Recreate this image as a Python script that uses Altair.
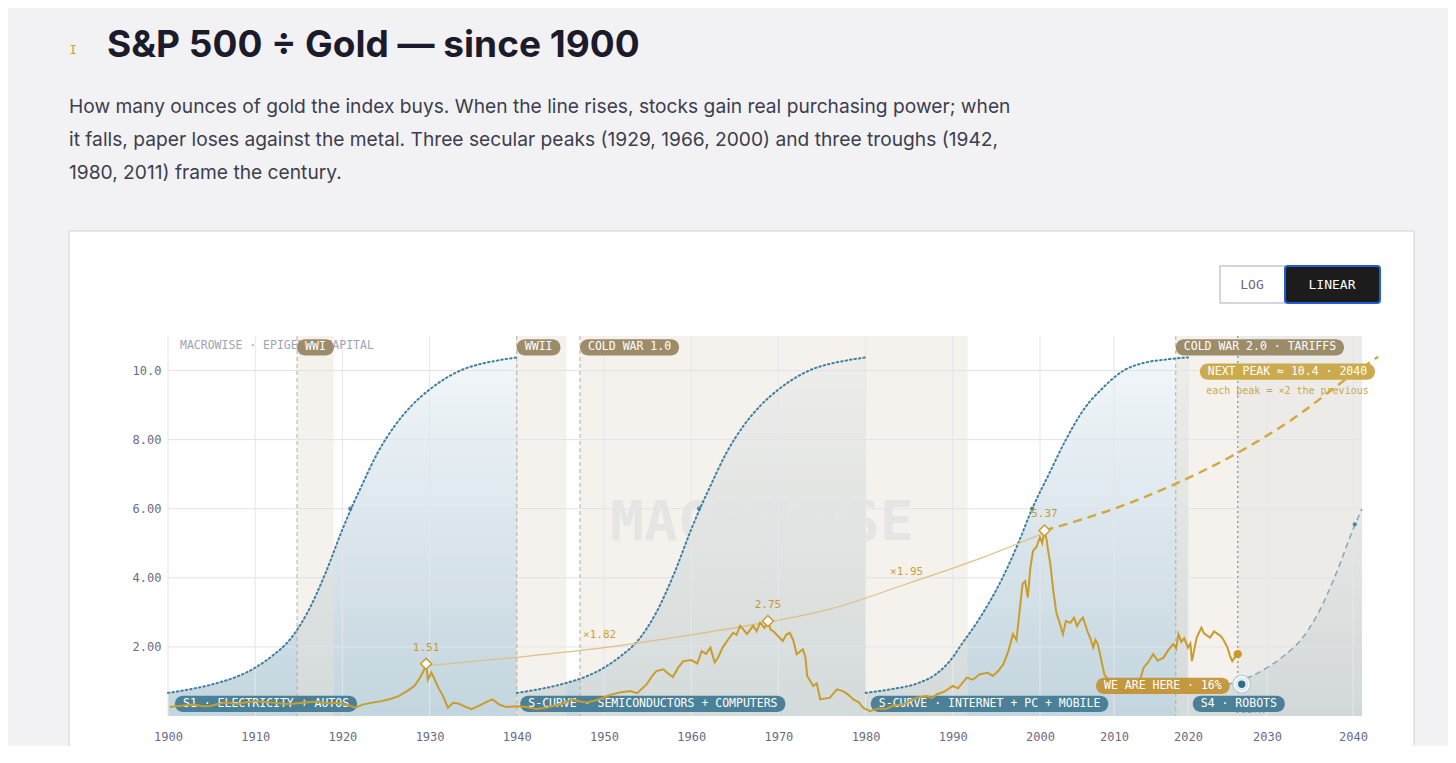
import altair as alt
import numpy as np
import pandas as pd

# ---------------- data ----------------
ratio_year = [1900.2, 1901.5, 1902.9, 1904.0, 1904.8, 1906.0, 1906.7, 1908.0, 1909.0, 1910.0,
              1911.0, 1912.3, 1913.5, 1914.6, 1916.0, 1917.2, 1918.3, 1919.5, 1920.5, 1921.5,
              1922.3, 1923.3, 1924.5, 1925.6, 1926.5, 1927.6, 1928.3, 1928.9, 1929.3, 1929.6,
              1929.8, 1930.2, 1930.6, 1931.0, 1931.5, 1932.1, 1932.7, 1933.3, 1934.0, 1934.8,
              1935.7, 1936.5, 1937.2, 1938.0, 1938.8, 1940.0, 1941.1, 1942.3, 1943.5, 1944.2,
              1945.2, 1946.4, 1947.2, 1948.0, 1949.0, 1949.9, 1950.8, 1951.8, 1953.0, 1953.8,
              1954.9, 1955.5, 1956.0, 1956.8, 1957.4, 1957.9, 1958.5, 1959.1, 1960.0, 1960.7,
              1961.2, 1961.7, 1962.2, 1962.7, 1963.1, 1963.6, 1964.2, 1964.8, 1965.2, 1965.6,
              1966.0, 1966.4, 1967.1, 1967.5, 1967.9, 1968.4, 1968.8, 1969.1, 1969.4, 1970.0,
              1970.5, 1970.9, 1971.3, 1971.7, 1972.1, 1972.8, 1973.1, 1973.3, 1974.0, 1974.4,
              1974.8, 1975.9, 1976.7, 1977.4, 1978.0, 1978.6, 1979.2, 1979.7, 1980.5, 1981.5,
              1982.3, 1983.1, 1984.5, 1985.2, 1985.9, 1987.0, 1987.6, 1988.2, 1989.0, 1990.0,
              1990.6, 1991.6, 1992.3, 1993.1, 1994.0, 1994.6, 1995.2, 1995.8, 1996.4, 1996.9,
              1997.3, 1997.6, 1998.0, 1998.3, 1998.6, 1998.9, 1999.2, 1999.6, 2000.0, 2000.3,
              2000.6, 2000.9, 2001.1, 2001.4, 2001.8, 2002.2, 2002.7, 2003.1, 2003.5, 2004.1,
              2004.6, 2005.0, 2005.4, 2005.8, 2006.4, 2006.8, 2007.2, 2007.5, 2007.8, 2008.1,
              2008.4, 2008.7, 2009.0, 2009.9, 2010.4, 2010.8, 2011.3, 2011.8, 2012.5, 2013.1,
              2013.6, 2014.0, 2014.6, 2015.3, 2015.9, 2016.7, 2017.3, 2018.0, 2018.4, 2018.7,
              2019.1, 2019.5, 2020.0, 2020.3, 2020.5, 2021.1, 2021.7, 2022.0, 2022.3, 2022.8,
              2023.3, 2023.8, 2024.2, 2024.5, 2025.0, 2025.3, 2025.6, 2026.2]
ratio_value = [0.26, 0.30, 0.33, 0.28, 0.29, 0.36, 0.40, 0.35, 0.40, 0.43,
               0.41, 0.38, 0.35, 0.36, 0.40, 0.42, 0.37, 0.38, 0.33, 0.24,
               0.33, 0.38, 0.43, 0.50, 0.58, 0.75, 0.88, 1.11, 1.30, 1.51,
               1.05, 1.26, 1.05, 0.82, 0.60, 0.24, 0.38, 0.36, 0.28, 0.20,
               0.30, 0.40, 0.48, 0.33, 0.26, 0.28, 0.26, 0.20, 0.25, 0.29,
               0.35, 0.49, 0.42, 0.39, 0.45, 0.53, 0.62, 0.68, 0.72, 0.66,
               0.92, 1.15, 1.30, 1.35, 1.22, 1.13, 1.40, 1.59, 1.62, 1.52,
               1.88, 1.80, 1.98, 1.55, 1.70, 1.98, 2.20, 2.41, 2.35, 2.61,
               2.50, 2.37, 2.61, 2.45, 2.70, 2.55, 2.75, 2.50, 2.46, 2.30,
               2.17, 2.35, 2.41, 2.20, 1.79, 1.93, 1.70, 1.16, 0.87, 0.95,
               0.48, 0.53, 0.77, 0.72, 0.62, 0.48, 0.40, 0.24, 0.14, 0.22,
               0.20, 0.29, 0.35, 0.45, 0.53, 0.58, 0.52, 0.63, 0.70, 0.87,
               0.80, 1.11, 1.05, 1.21, 1.25, 1.16, 1.30, 1.50, 1.90, 2.37,
               2.20, 2.90, 3.82, 3.90, 3.43, 4.30, 4.78, 4.90, 5.17, 5.00,
               5.37, 5.10, 4.78, 4.40, 3.62, 3.00, 2.66, 2.37, 2.75, 2.70,
               2.85, 2.60, 2.75, 2.85, 2.46, 2.25, 1.98, 2.20, 2.08, 1.80,
               1.50, 1.20, 1.11, 0.82, 0.95, 0.80, 0.72, 0.68, 0.75, 0.82,
               1.10, 1.40, 1.55, 1.79, 1.60, 1.69, 1.90, 2.08, 1.95, 2.37,
               2.15, 2.25, 1.98, 2.10, 1.59, 2.27, 2.56, 2.40, 2.35, 2.27,
               2.45, 2.37, 2.30, 2.20, 1.98, 1.75, 1.59, 1.79]

s_t = [0, 2, 4, 6, 8, 10, 12, 14, 16, 18, 20, 21, 22, 24, 26, 28, 30, 32, 34, 36, 38, 40]
s_v = [0.67, 0.75, 0.85, 0.98, 1.15, 1.40, 1.75, 2.22, 3.00, 4.10, 5.40, 6.00, 6.55, 7.60,
       8.40, 9.00, 9.45, 9.80, 10.05, 10.20, 10.30, 10.38]
s_starts = [1900, 1940]
s4_start = 2020
s4_last_t = 21
s3_year = [1980, 1983, 1986, 1988, 1990, 1990.8, 1993, 1995.7, 1997.5, 1999.1, 2001.2,
           2003.5, 2006, 2008.5, 2011.3, 2014, 2017, 2020]
s3_value = [0.67, 0.78, 0.95, 1.20, 1.70, 2.00, 2.80, 4.00, 5.00, 6.00, 7.00,
            8.00, 8.90, 9.50, 10.00, 10.22, 10.32, 10.38]
s_mark_year = [1920.9, 1960.9, 1999.1, 2040.2]
s_mark_value = [6.0, 6.0, 6.0, 5.55]

s_label = ["S1 · ELECTRICITY + AUTOS", "S-CURVE · SEMICONDUCTORS + COMPUTERS",
           "S-CURVE · INTERNET + PC + MOBILE", "S4 · ROBOTS"]
s_label_year = [1900.8, 1940.4, 1980.6, 2020.6]
s_label_value = [0.35, 0.35, 0.35, 0.35]

band_label = ["WWI", "WWII", "COLD WAR 1.0", "COLD WAR 2.0 · TARIFFS"]
band_start = [1914.8, 1940.0, 1947.25, 2018.35]
band_end = [1919.0, 1945.7, 1991.7, 2041.0]
band_label_value = [10.67, 10.67, 10.67, 10.67]

peak_year = [1929.6, 1968.8, 2000.6]
peak_value = [1.51, 2.75, 5.37]
peak_text = ["1.51", "2.75", "5.37"]

trend_year = [1929.6, 1940, 1950, 1960, 1968.8, 1976, 1985, 1993, 2000.6]
trend_value = [1.45, 1.70, 1.98, 2.35, 2.72, 3.10, 3.85, 4.55, 5.30]
mult_text = ["×1.82", "×1.95"]
mult_year = [1947.6, 1982.8]
mult_value = [2.35, 4.17]

proj_year = [2000.6, 2010, 2018.3, 2026.3, 2033, 2040, 2042.8]
proj_value = [5.37, 6.00, 6.72, 7.62, 8.60, 9.90, 10.40]

today_year = 2026.3
today_value = 1.79
s4_now_year = 2026.8
s4_now_value = 0.92

x_ticks = [1900, 1910, 1920, 1930, 1940, 1950, 1960, 1970, 1980, 1990, 2000, 2010, 2020, 2030, 2040]
y_ticks = [2, 4, 6, 8, 10]

# ---------------- scales / styles ----------------
x_dom = [1900, 2000, 2010, 2020, 2030, 2040, 2041]
x_rng = [0, 872, 946, 1020, 1099, 1185, 1194]
W, H = 1194, 380
MONO = "DejaVu Sans Mono"
SANS = "Inter"
GOLD = "#c89d2e"
TEAL = "#3f7f9f"

xs = alt.Scale(domain=x_dom, range=x_rng, nice=False, zero=False)
ys = alt.Scale(domain=[0, 11], nice=False, zero=False)
xaxis = alt.Axis(values=x_ticks, title=None, grid=False, domain=False, ticks=False, zindex=1,
                 labelFont=MONO, labelFontSize=12, labelColor="#6c6a84", labelPadding=15,
                 format="d", labelFlush=False, labelOverlap=False)
yaxis = alt.Axis(values=y_ticks, title=None, grid=False, domain=False, ticks=False, zindex=1,
                 labelFont=MONO, labelFontSize=12, labelColor="#6c6a84", labelPadding=7,
                 labelExpr="datum.value >= 10 ? format(datum.value, '.1f') : format(datum.value, '.2f')")


def X(f):
    return alt.X(f, type="quantitative", scale=xs, axis=xaxis)


def Y(f, stack=False):
    if stack:
        return alt.Y(f, type="quantitative", scale=ys, axis=yaxis, stack=None)
    return alt.Y(f, type="quantitative", scale=ys, axis=yaxis)


def to_px(year):
    return float(np.interp(year, x_dom, x_rng))


def to_year(p):
    if p > x_rng[-1]:
        return x_dom[-1] + (p - x_rng[-1]) / 9.0
    return float(np.interp(p, x_rng, x_dom))


one = pd.DataFrame({"k": [0]})

# ---------------- tables ----------------
ratio_df = pd.DataFrame({"year": ratio_year, "value": ratio_value})
rows = []
for i, s in enumerate(s_starts):
    for t, v in zip(s_t, s_v):
        rows.append({"curve": f"S{i+1}", "year": s + t, "value": v})
for y, v in zip(s3_year, s3_value):
    rows.append({"curve": "S3", "year": y, "value": v})
s_df = pd.DataFrame(rows)
s4_df = pd.DataFrame([{"curve": "S4", "year": s4_start + t, "value": v}
                      for t, v in zip(s_t, s_v) if t <= s4_last_t])
band_df = pd.DataFrame({"x": band_start, "x2": band_end})

# ---------------- layers ----------------
layers = []

# card & page text
layers.append(alt.Chart(one).mark_rect(fill="white", stroke="#cfcfdc", strokeWidth=1).encode(
    x=alt.value(-99), x2=alt.value(1246), y=alt.value(-105), y2=alt.value(600)))
layers.append(alt.Chart(one).mark_text(font=MONO, fontSize=12, color="#c9a032", baseline="middle",
                                       align="center").encode(
    x=alt.value(-95), y=alt.value(-286), text=alt.value("I")))
layers.append(alt.Chart(one).mark_text(font=SANS, fontSize=37, fontWeight=700, color="#1b1b2b",
                                       align="left", baseline="alphabetic").encode(
    x=alt.value(-61), y=alt.value(-279), text=alt.value("S&P 500 ÷ Gold — since 1900")))
layers.append(alt.Chart(one).mark_text(font=SANS, fontSize=19.2, color="#3d3d4e", align="left",
                                       baseline="middle", lineHeight=33).encode(
    x=alt.value(-99), y=alt.value(-229),
    text=alt.value(["How many ounces of gold the index buys. When the line rises, stocks gain real purchasing power; when",
                    "it falls, paper loses against the metal. Three secular peaks (1929, 1966, 2000) and three troughs (1942,",
                    "1980, 2011) frame the century."])))
# buttons
layers.append(alt.Chart(one).mark_rect(fill="white", stroke="#c8c8d8", strokeWidth=1.5).encode(
    x=alt.value(1052), x2=alt.value(1117), y=alt.value(-70), y2=alt.value(-33)))
layers.append(alt.Chart(one).mark_rect(fill="#1c1c1c", stroke="#1f5fd6", strokeWidth=2,
                                       cornerRadius=3).encode(
    x=alt.value(1117), x2=alt.value(1212), y=alt.value(-70), y2=alt.value(-33)))
layers.append(alt.Chart(one).mark_text(font=MONO, fontSize=13, color="#6c6a84").encode(
    x=alt.value(1084), y=alt.value(-51), text=alt.value("LOG")))
layers.append(alt.Chart(one).mark_text(font=MONO, fontSize=13, color="white").encode(
    x=alt.value(1164), y=alt.value(-51), text=alt.value("LINEAR")))

# S-curve fills
grad = alt.Gradient(gradient="linear", x1=0, x2=0, y1=0, y2=1,
                    stops=[alt.GradientStop(color="#f1f6f9", offset=0),
                           alt.GradientStop(color="#c3d5de", offset=1)])
for sub in [s_df[s_df.curve == c] for c in ["S1", "S2", "S3"]] + [s4_df]:
    layers.append(alt.Chart(sub).mark_area(color=grad, interpolate="monotone").encode(
        x=X("year"), y=Y("value", stack=True)))

# war / era bands and "future" shade
layers.append(alt.Chart(band_df).mark_rect(color="#e8e3d6", opacity=0.45).encode(
    x=X("x"), x2="x2", y=alt.value(0), y2=alt.value(H)))
layers.append(alt.Chart(pd.DataFrame({"x": [today_year], "x2": [x_dom[-1]]})).mark_rect(
    color="#cfcfd4", opacity=0.18).encode(x=X("x"), x2="x2", y=alt.value(0), y2=alt.value(H)))

# watermark
layers.append(alt.Chart(one).mark_text(font=MONO, fontSize=56, fontWeight="bold", color="#e3e3e3",
                                       align="center", baseline="middle", opacity=0.85).encode(
    x=alt.value(594), y=alt.value(187), text=alt.value("MACROWISE")))

# grid
layers.append(alt.Chart(pd.DataFrame({"x": x_ticks})).mark_rule(color="#e6e6ec", strokeWidth=1).encode(
    x=X("x"), y=alt.value(0), y2=alt.value(H)))
layers.append(alt.Chart(pd.DataFrame({"y": y_ticks})).mark_rule(color="#e2e2ea", strokeWidth=1).encode(
    y=Y("y"), x=alt.value(0), x2=alt.value(W)))

# band start lines, today line
layers.append(alt.Chart(pd.DataFrame({"x": band_start})).mark_rule(
    color="#b5ad9c", strokeDash=[4, 3], strokeWidth=1).encode(x=X("x"), y=alt.value(0), y2=alt.value(H)))
layers.append(alt.Chart(pd.DataFrame({"x": [today_year]})).mark_rule(
    color="#8a8aa0", strokeDash=[2, 3], strokeWidth=1.2).encode(x=X("x"), y=alt.value(0), y2=alt.value(H)))

# S-curve lines
layers.append(alt.Chart(s_df).mark_line(color=TEAL, strokeDash=[1.5, 3], strokeWidth=2,
                                        strokeCap="round", interpolate="monotone").encode(
    x=X("year"), y=Y("value"), detail="curve:N"))
layers.append(alt.Chart(s4_df).mark_line(color="#86a7b8", strokeDash=[6, 4], strokeWidth=1.5,
                                         interpolate="monotone").encode(x=X("year"), y=Y("value")))
layers.append(alt.Chart(pd.DataFrame({"year": s_mark_year, "value": s_mark_value})).mark_circle(
    color=TEAL, size=18, opacity=0.9).encode(x=X("year"), y=Y("value")))

# trend through the peaks and projection
layers.append(alt.Chart(pd.DataFrame({"year": trend_year, "value": trend_value})).mark_line(
    color="#dcc283", strokeWidth=1.3, interpolate="monotone").encode(x=X("year"), y=Y("value")))
layers.append(alt.Chart(pd.DataFrame({"year": proj_year, "value": proj_value})).mark_line(
    color="#d2a83e", strokeWidth=2.4, strokeDash=[9, 6], interpolate="monotone").encode(
    x=X("year"), y=Y("value")))
layers.append(alt.Chart(pd.DataFrame({"year": mult_year, "value": mult_value, "t": mult_text})).mark_text(
    font=MONO, fontSize=11, color="#c9a032", align="left", baseline="middle").encode(
    x=X("year"), y=Y("value"), text="t"))

# TODAY text (mostly hidden behind the S4 pill, as in the original)
layers.append(alt.Chart(pd.DataFrame({"year": [today_year], "value": [0.18]})).mark_text(
    font=MONO, fontSize=11, color="#9a9aaa", align="left", dx=-4, baseline="middle").encode(
    x=X("year"), y=Y("value"), text=alt.value("TODAY")))

CHAR_W = 6.92
PAD = 8


def pills(texts, starts, centers, fill, text_color="white", opacity=1.0, half=0.235):
    df = pd.DataFrame({"label": texts, "x": starts, "yc": centers})
    df["x2"] = [to_year(to_px(s) + len(t) * CHAR_W + 2 * PAD) for s, t in zip(starts, texts)]
    df["y1"] = df["yc"] + half
    df["y2"] = df["yc"] - half
    r = alt.Chart(df).mark_rect(cornerRadius=8, color=fill, opacity=opacity).encode(
        x=X("x"), x2="x2", y=Y("y1"), y2="y2")
    t = alt.Chart(df).mark_text(align="left", baseline="middle", dx=PAD, font=MONO, fontSize=11.5,
                                color=text_color).encode(x=X("x"), y=Y("yc"), text="label")
    return [r, t]


layers += pills(s_label, s_label_year, s_label_value, "#4b8198")

# the ratio line
layers.append(alt.Chart(ratio_df).mark_line(color=GOLD, strokeWidth=2).encode(
    x=X("year"), y=Y("value")))

# we are here
layers += pills(["WE ARE HERE · 16%"], [2007.57], [0.87], "#c39233", opacity=0.93)

# peaks
peak_df = pd.DataFrame({"year": peak_year, "value": peak_value, "t": peak_text})
layers.append(alt.Chart(peak_df).mark_point(shape="diamond", size=120, filled=True, color="white",
                                            stroke=GOLD, strokeWidth=1.5, opacity=1).encode(
    x=X("year"), y=Y("value")))
layers.append(alt.Chart(peak_df).mark_text(font=MONO, fontSize=11, color="#c49a30", dy=-16,
                                           baseline="middle").encode(
    x=X("year"), y=Y("value"), text="t"))

# today markers
layers.append(alt.Chart(pd.DataFrame({"year": [today_year], "value": [today_value]})).mark_circle(
    color=GOLD, size=70, opacity=1).encode(x=X("year"), y=Y("value")))
now_df = pd.DataFrame({"year": [s4_now_year], "value": [s4_now_value]})
layers.append(alt.Chart(now_df).mark_point(size=320, filled=True, color="white", stroke="#b8cdd6",
                                           strokeWidth=1.5, opacity=0.8).encode(
    x=X("year"), y=Y("value")))
layers.append(alt.Chart(now_df).mark_point(size=130, filled=False, color="#b8cdd6",
                                           strokeWidth=1).encode(x=X("year"), y=Y("value")))
layers.append(alt.Chart(now_df).mark_circle(size=55, color="#2f6f8c", opacity=1).encode(
    x=X("year"), y=Y("value")))

# top-left credit, band pills, next peak
layers.append(alt.Chart(one).mark_text(font=MONO, fontSize=11.5, color="#a3a1b5", align="left",
                                       baseline="middle").encode(
    x=alt.value(12), y=alt.value(10), text=alt.value("MACROWISE · EPIGENIC CAPITAL")))
layers += pills(band_label, band_start, band_label_value, "#9c8c6a")
layers += pills(["NEXT PEAK ≈ 10.4 · 2040"], [2021.5], [9.97], "#ccaa4e")
layers.append(alt.Chart(pd.DataFrame({"year": [2022.3], "value": [9.42]})).mark_text(
    font=MONO, fontSize=10, color="#c9a850", align="left", baseline="middle").encode(
    x=X("year"), y=Y("value"), text=alt.value("each peak = ×2 the previous")))

chart = alt.layer(*layers).properties(
    width=W, height=H,
    autosize=alt.AutoSizeParams(type="none"),
    padding={"left": 160, "top": 328, "right": 86, "bottom": 30},
    background="#f2f2f5",
).configure_view(stroke=None)

chart.save("out.html", embed_options={"renderer": "svg", "actions": False})
